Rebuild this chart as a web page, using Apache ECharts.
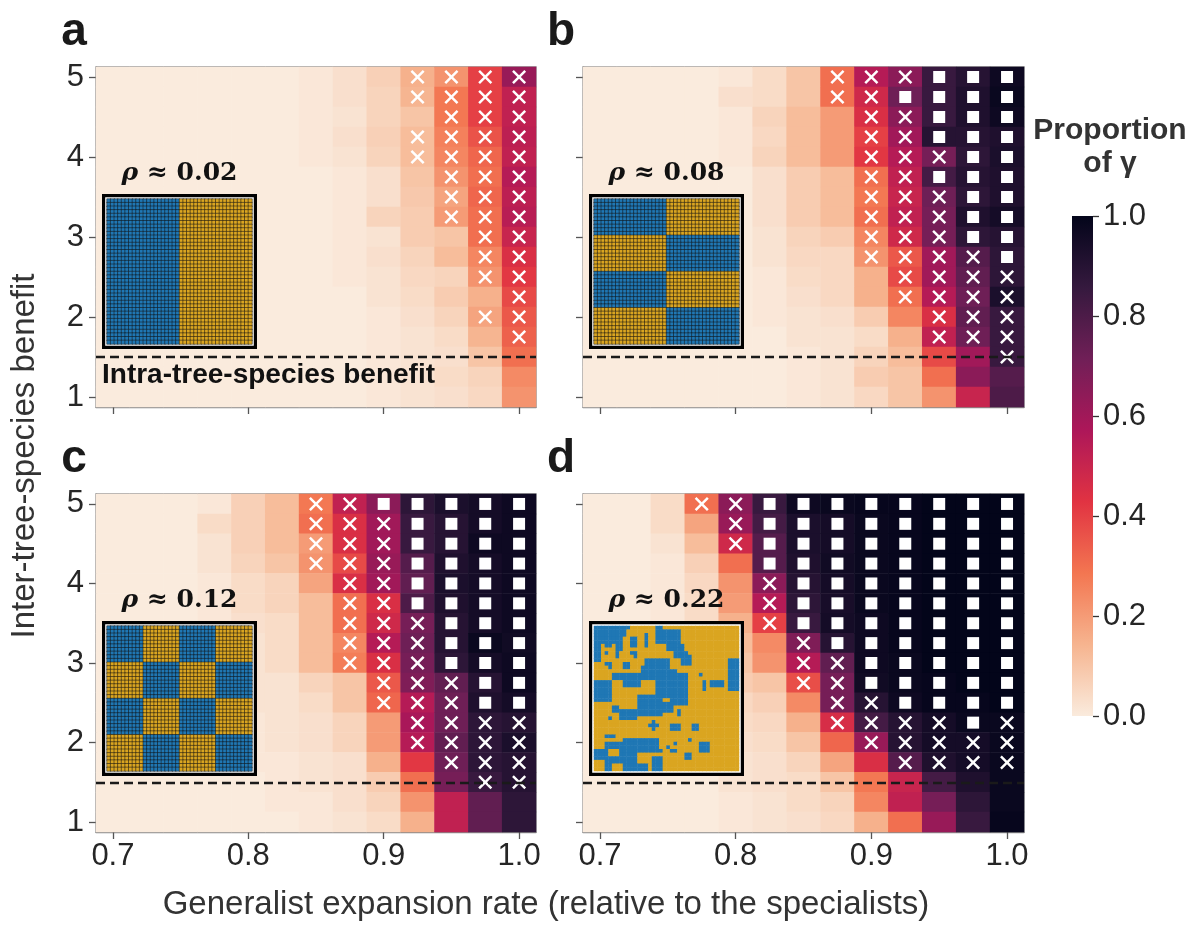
<!DOCTYPE html>
<html><head><meta charset="utf-8">
<script src="https://cdn.jsdelivr.net/npm/echarts@6/dist/echarts.min.js"></script>
<style>html,body{margin:0;padding:0;background:#fff}#c{width:1195px;height:926px}</style>
</head><body><div id="c"></div>
<script>
// ---------------- data ----------------
const xCats = ['0.7','0.725','0.75','0.775','0.8','0.825','0.85','0.875','0.9','0.925','0.95','0.975','1.0'];
const yCats = ['1','1.25','1.5','1.75','2','2.25','2.5','2.75','3','3.25','3.5','3.75','4','4.25','4.5','4.75','5'];
const panelLetters = ['a','b','c','d'];
const rhoValues = ['0.02','0.08','0.12','0.22'];
const intraBenefit = '1.5';
const xTitle = 'Generalist expansion rate (relative to the specialists)';
const yTitle = 'Inter-tree-species benefit';
const intraLabel = 'Intra-tree-species benefit';
const colorbarTitle = 'Proportion\nof \u03b3';
const rocketR = ['#faebdd','#f6b48f','#f37651','#e13342','#ad1759','#701f57','#35193e','#03051a'];

// rows listed top (benefit 5) to bottom (benefit 1); columns 0.7 ... 1.0
const valuesA = [
 [0,0,0,0,0,0,0.01,0.03,0.07,0.15,0.22,0.40,0.62],
 [0,0,0,0,0,0,0.01,0.03,0.06,0.14,0.28,0.40,0.52],
 [0,0,0,0,0,0,0.01,0.02,0.06,0.10,0.28,0.40,0.52],
 [0,0,0,0,0,0,0.01,0.03,0.07,0.12,0.26,0.36,0.53],
 [0,0,0,0,0,0,0.01,0.02,0.06,0.12,0.25,0.32,0.52],
 [0,0,0,0,0,0,0,0.01,0.03,0.10,0.22,0.30,0.55],
 [0,0,0,0,0,0,0,0.01,0.03,0.09,0.18,0.32,0.53],
 [0,0,0,0,0,0,0,0.01,0.06,0.08,0.20,0.30,0.54],
 [0,0,0,0,0,0,0,0.01,0.02,0.08,0.10,0.30,0.50],
 [0,0,0,0,0,0,0,0.01,0.03,0.06,0.12,0.25,0.45],
 [0,0,0,0,0,0,0,0.01,0.02,0.05,0.06,0.22,0.42],
 [0,0,0,0,0,0,0,0,0.02,0.04,0.08,0.15,0.38],
 [0,0,0,0,0,0,0,0,0.01,0.03,0.06,0.18,0.35],
 [0,0,0,0,0,0,0,0,0.01,0.02,0.04,0.14,0.33],
 [0,0,0,0,0,0,0,0,0.01,0.02,0.03,0.10,0.30],
 [0,0,0,0,0,0,0,0,0.01,0.02,0.04,0.06,0.24],
 [0,0,0,0,0,0,0,0,0.01,0.02,0.03,0.05,0.22]
];
const valuesB = [
 [0,0,0,0,0.01,0.04,0.10,0.30,0.55,0.65,0.85,0.90,0.97],
 [0,0,0,0,0.03,0.04,0.10,0.30,0.48,0.72,0.85,0.92,0.98],
 [0,0,0,0,0.01,0.06,0.12,0.20,0.45,0.65,0.85,0.92,0.97],
 [0,0,0,0,0.01,0.05,0.12,0.20,0.40,0.60,0.90,0.90,0.92],
 [0,0,0,0,0.01,0.06,0.12,0.20,0.42,0.55,0.70,0.88,0.93],
 [0,0,0,0,0,0.03,0.08,0.12,0.30,0.52,0.82,0.90,0.92],
 [0,0,0,0,0,0.03,0.08,0.12,0.28,0.50,0.72,0.88,0.92],
 [0,0,0,0,0,0.03,0.08,0.12,0.30,0.52,0.70,0.92,0.95],
 [0,0,0,0,0,0.02,0.06,0.08,0.25,0.48,0.70,0.88,0.90],
 [0,0,0,0,0,0.02,0.05,0.05,0.22,0.35,0.60,0.78,0.88],
 [0,0,0,0,0,0.01,0.04,0.05,0.15,0.38,0.60,0.75,0.88],
 [0,0,0,0,0,0.01,0.03,0.05,0.15,0.30,0.55,0.72,0.93],
 [0,0,0,0,0,0.01,0.02,0.03,0.08,0.25,0.45,0.75,0.85],
 [0,0,0,0,0,0,0.02,0.02,0.04,0.15,0.52,0.72,0.85],
 [0,0,0,0,0,0,0.01,0.02,0.06,0.12,0.38,0.60,0.85],
 [0,0,0,0,0,0,0.01,0.02,0.08,0.10,0.30,0.65,0.78],
 [0,0,0,0,0,0,0.01,0.02,0.05,0.10,0.22,0.50,0.80]
];
const valuesC = [
 [0,0,0,0.01,0.07,0.12,0.28,0.52,0.65,0.88,0.93,0.95,0.97],
 [0,0,0,0.04,0.07,0.12,0.30,0.45,0.60,0.85,0.90,0.95,0.97],
 [0,0,0,0.02,0.07,0.12,0.20,0.45,0.60,0.85,0.90,0.97,0.97],
 [0,0,0,0.02,0.06,0.10,0.22,0.38,0.62,0.78,0.92,0.95,0.97],
 [0,0,0,0.01,0.04,0.06,0.18,0.45,0.60,0.75,0.93,0.95,0.97],
 [0,0,0,0.01,0.04,0.06,0.12,0.30,0.45,0.80,0.92,0.95,0.97],
 [0,0,0,0.01,0.03,0.04,0.12,0.30,0.48,0.70,0.90,0.95,0.97],
 [0,0,0,0.01,0.02,0.04,0.12,0.25,0.55,0.72,0.90,0.98,0.96],
 [0,0,0,0.01,0.02,0.04,0.12,0.27,0.45,0.70,0.88,0.95,0.97],
 [0,0,0,0,0.02,0.02,0.06,0.10,0.35,0.68,0.75,0.90,0.97],
 [0,0,0,0,0.02,0.02,0.04,0.10,0.32,0.55,0.72,0.92,0.95],
 [0,0,0,0,0.01,0.02,0.03,0.06,0.20,0.58,0.72,0.88,0.90],
 [0,0,0,0,0.01,0.02,0.03,0.06,0.20,0.55,0.75,0.88,0.93],
 [0,0,0,0,0.01,0.01,0.02,0.03,0.15,0.42,0.72,0.88,0.90],
 [0,0,0,0,0,0.01,0.02,0.03,0.08,0.30,0.70,0.85,0.90],
 [0,0,0,0,0,0.01,0.01,0.03,0.06,0.22,0.52,0.75,0.88],
 [0,0,0,0,0,0,0.01,0.02,0.04,0.15,0.52,0.75,0.88]
];
const valuesD = [
 [0,0,0.04,0.30,0.65,0.85,0.97,0.98,0.99,0.99,1,1,1],
 [0,0,0.04,0.18,0.62,0.82,0.93,0.95,0.98,0.99,1,1,1],
 [0,0,0.02,0.12,0.48,0.78,0.93,0.95,0.98,0.99,1,1,1],
 [0,0,0.01,0.07,0.30,0.78,0.92,0.96,0.98,0.99,1,1,1],
 [0,0,0.01,0.05,0.22,0.65,0.90,0.95,0.98,0.99,1,1,1],
 [0,0,0.01,0.04,0.20,0.55,0.88,0.94,0.98,0.99,1,1,1],
 [0,0,0.01,0.04,0.15,0.40,0.85,0.95,0.97,0.99,1,1,1],
 [0,0,0,0.03,0.12,0.24,0.68,0.90,0.97,0.99,1,1,1],
 [0,0,0,0.03,0.10,0.22,0.55,0.75,0.97,0.98,1,1,1],
 [0,0,0,0.02,0.08,0.10,0.37,0.70,0.96,0.98,0.99,1,1],
 [0,0,0,0.02,0.05,0.07,0.24,0.70,0.90,0.97,0.99,0.99,1],
 [0,0,0,0.01,0.04,0.05,0.15,0.46,0.82,0.90,0.95,0.98,0.98],
 [0,0,0,0.01,0.03,0.04,0.10,0.32,0.62,0.90,0.95,0.95,0.98],
 [0,0,0,0.01,0.02,0.03,0.06,0.18,0.45,0.78,0.92,0.95,0.98],
 [0,0,0,0,0.02,0.03,0.04,0.10,0.28,0.50,0.82,0.92,0.98],
 [0,0,0,0,0.01,0.02,0.04,0.06,0.25,0.52,0.70,0.88,0.98],
 [0,0,0,0,0.01,0.02,0.03,0.05,0.15,0.30,0.62,0.85,0.99]
];
// markers: x = cross, s = square, . = none (same row/column layout)
const markersA = [
 '.........xxxx','.........xxxx','..........xxx','.........xxxx','.........xxxx',
 '..........xxx','..........xxx','..........xxx','...........xx','...........xx',
 '...........xx','............x','...........xx','............x','.............',
 '.............','.............'
];
const markersB = [
 '.......xxxsss','.......xxssss','........xxsss','........xxsss','........xxxss',
 '........xxsss','........xxxss','........xxxss','........xxxss','........xxxxs',
 '.........xxxx','.........xxxx','..........xxx','..........xxx','............x',
 '.............','.............'
];
const markersC = [
 '......xxsssss','......xxxssss','......xxxssss','......xxxssss','.......xxssss',
 '.......xxssss','.......xxxsss','.......xxxsss','.......xxxsss','........xxxss',
 '........xxxss','.........xxxx','.........xxxx','..........xxx','...........xx',
 '.............','.............'
];
const markersD = [
 '...xxssssssss','....xssssssss','....xssssssss','.....ssssssss','.....xsssssss',
 '.....xsssssss','.....xsssssss','......xssssss','......xxsssss','......xxsssss',
 '.......xxssss','.......xxxxsx','........xxxxx','.........xxxx','.............',
 '.............','.............'
];
// inset spatial layouts (0 = blue species, 1 = gold species)
const insetN = 40;
const insetBlocksA = [[0,1]];
const insetBlocksB = [[0,1],[1,0],[0,1],[1,0]];
const insetBlocksC = [[0,1,0,1],[1,0,1,0],[0,1,0,1],[1,0,1,0]];
// random landscape: blue patches as [row0,row1,col0,col1] on the 40x40 lattice, rest gold
const insetBluePatchesD = [
 [0,0,0,9],[1,2,0,8],[3,4,0,7],[5,5,0,1],[5,5,3,4],[5,6,6,7],[6,9,0,1],[7,7,3,3],[7,8,6,6],
 [10,10,3,4],[11,11,4,4],[10,11,8,9],[3,5,10,11],[2,5,14,14],[7,7,10,11],[8,8,11,11],
 [0,0,17,18],[1,4,17,23],[5,6,20,24],[7,8,22,25],[8,10,24,26],[9,12,14,20],[11,12,13,13],
 [13,14,5,25],[12,12,21,22],[15,16,8,12],[15,20,0,4],[15,19,17,25],[20,21,21,25],
 [19,24,12,18],[22,23,5,6],[23,25,7,11],[21,23,19,21],[23,24,23,23],[25,25,4,4],
 [9,17,37,39],[13,13,29,29],[15,17,30,30],[15,16,32,35],[26,28,16,16],[27,27,15,17],
 [27,28,21,23],[27,28,27,28],[31,31,26,26],[32,34,29,31],[32,32,22,22],[30,30,3,5],
 [31,33,8,17],[32,33,3,7],[34,37,7,11],[34,34,12,18],[34,36,0,3],[36,39,3,4],[36,37,5,6],
 [38,39,8,14],[36,39,16,18],[34,34,21,22],[35,36,25,26],[33,33,20,20]
];

// ---------------- layout / style ----------------
const FONT = '"Liberation Sans", Arial, sans-serif';
const TXT = '#262626';
const panels = [
 {left:96,  top:67,  width:440, height:340, vals:valuesA, marks:markersA, xLab:false, yLab:true},
 {left:583, top:67,  width:441, height:340, vals:valuesB, marks:markersB, xLab:false, yLab:false},
 {left:96,  top:494, width:440, height:338, vals:valuesC, marks:markersC, xLab:true,  yLab:true},
 {left:583, top:494, width:441, height:338, vals:valuesD, marks:markersD, xLab:true,  yLab:false}
];
const BOX = 155, BOX_DX = 6, BOX_DY = 127, PAD = 5;
const CROSS = 'path://M2.5,0 L10,7.5 L17.5,0 L20,2.5 L12.5,10 L20,17.5 L17.5,20 L10,12.5 L2.5,20 L0,17.5 L7.5,10 L0,2.5 Z';

function heatData(vals){
  const out = [];
  vals.forEach((row, r) => row.forEach((v, c) => out.push([c, yCats.length - 1 - r, v])));
  return out;
}
function markerData(rows, ch){
  const out = [];
  rows.forEach((s, r) => { for (let c = 0; c < s.length; c++) if (s[c] === ch) out.push([c, yCats.length - 1 - r]); });
  return out;
}
function blockInset(blocks){
  const R = blocks.length, C = blocks[0].length, out = [];
  for (let r = 0; r < insetN; r++) for (let c = 0; c < insetN; c++)
    out.push([c, r, blocks[Math.floor(r * R / insetN)][Math.floor(c * C / insetN)]]);
  return out;
}
function patchInset(patches){
  const g = Array.from({length: insetN}, () => Array(insetN).fill(1));
  patches.forEach(([r0, r1, c0, c1]) => { for (let r = r0; r <= r1; r++) for (let c = c0; c <= c1; c++) g[r][c] = 0; });
  const out = [];
  for (let r = 0; r < insetN; r++) for (let c = 0; c < insetN; c++) out.push([c, r, g[r][c]]);
  return out;
}
const insetData = [blockInset(insetBlocksA), blockInset(insetBlocksB), blockInset(insetBlocksC), patchInset(insetBluePatchesD)];
const insetCats = Array.from({length: insetN}, (_, i) => String(i));

const grid = [], xAxis = [], yAxis = [], series = [], graphic = [];
panels.forEach((p, i) => {
  grid.push({left:p.left, top:p.top, width:p.width, height:p.height, show:true, borderColor:'#8a8a8a', borderWidth:1.3, backgroundColor:'transparent'});
  xAxis.push({type:'category', gridIndex:i, data:xCats,
    axisLine:{show:true, lineStyle:{color:'#8a8a8a', width:1.3}},
    axisTick:{show:true, alignWithLabel:true, length:7, interval:(idx)=>idx%4===0, lineStyle:{color:'#555', width:1.3}},
    axisLabel:{show:p.xLab, interval:(idx)=>idx%4===0, formatter:(v)=>Number(v).toFixed(1), fontSize:31, color:TXT, margin:9, fontFamily:FONT},
    splitLine:{show:false}});
  yAxis.push({type:'category', gridIndex:i, data:yCats,
    axisLine:{show:true, lineStyle:{color:'#8a8a8a', width:1.3}},
    axisTick:{show:true, alignWithLabel:true, length:7, interval:(idx)=>idx%4===0, lineStyle:{color:'#555', width:1.3}},
    axisLabel:{show:p.yLab, interval:(idx)=>idx%4===0, formatter:(v)=>String(Number(v)), fontSize:31, color:TXT, margin:12, fontFamily:FONT},
    splitLine:{show:false}});
});
panels.forEach((p, i) => {
  const bx = p.left + BOX_DX, by = p.top + BOX_DY;
  grid.push({left:bx + PAD, top:by + PAD, width:BOX - 2*PAD, height:BOX - 2*PAD, show:false});
  xAxis.push({type:'category', gridIndex:4+i, data:insetCats, show:false});
  yAxis.push({type:'category', gridIndex:4+i, data:insetCats, show:false, inverse:true});
  graphic.push({type:'rect', z:8, shape:{x:bx + 1.6, y:by + 1.6, width:BOX - 3.2, height:BOX - 3.2},
    style:{fill:'#fff', stroke:'#000', lineWidth:3.2}});
  graphic.push({type:'text', z:9, x:bx + BOX/2, y:by - 21,
    style:{text:'{r|\u03c1} \u2248 ' + rhoValues[i], fontSize:25, fontWeight:'bold', fontFamily:'"DejaVu Serif", serif', fill:'#111',
      align:'center', verticalAlign:'middle',
      rich:{r:{fontStyle:'italic', fontWeight:'bold', fontSize:25, fontFamily:'"DejaVu Serif", serif', fill:'#111'}}}});
  graphic.push({type:'text', z:9, x:p.left - 22, y:p.top - 35,
    style:{text:panelLetters[i], fontSize:46, fontWeight:'bold', fontFamily:FONT, fill:'#1a1a1a', align:'center', verticalAlign:'middle'}});
});
// colorbar grid
grid.push({left:1072, top:216, width:21, height:500, show:false});
xAxis.push({type:'category', gridIndex:8, data:['cb'], show:false});
yAxis.push({type:'value', gridIndex:8, min:0, max:1, interval:0.2, position:'right',
  axisLine:{show:false}, splitLine:{show:false},
  axisTick:{show:true, length:6, lineStyle:{color:'#333', width:1.3}},
  axisLabel:{fontSize:31, color:TXT, margin:10, fontFamily:FONT, formatter:(v)=>v.toFixed(1)}});

// series
panels.forEach((p, i) => {
  series.push({type:'heatmap', xAxisIndex:i, yAxisIndex:i, data:heatData(p.vals), z:2, progressive:0,
    emphasis:{disabled:true}, silent:true,
    markLine:{silent:true, symbol:'none', animation:false,
      lineStyle:{color:'#1a1a1a', type:[9,5], width:2.4, opacity:1},
      label:{show:i===0, formatter:intraLabel, position:'insideStartBottom', fontSize:28, fontWeight:'bold', color:'#111', fontFamily:FONT, distance:[6,4]},
      data:[{yAxis:intraBenefit}]}});
});
panels.forEach((p, i) => {
  series.push({type:'heatmap', xAxisIndex:4+i, yAxisIndex:4+i, data:insetData[i], z:10, progressive:0,
    emphasis:{disabled:true}, silent:true,
    itemStyle:{borderColor: i < 3 ? 'rgba(15,15,15,0.85)' : 'transparent', borderWidth: i < 3 ? 0.6 : 0}});
});
panels.forEach((p, i) => {
  series.push({type:'scatter', xAxisIndex:i, yAxisIndex:i, data:markerData(p.marks, 'x'), symbol:CROSS, symbolSize:14,
    itemStyle:{color:'#fff', opacity:1}, z:4, silent:true});
  series.push({type:'scatter', xAxisIndex:i, yAxisIndex:i, data:markerData(p.marks, 's'), symbol:'rect', symbolSize:12,
    itemStyle:{color:'#fff', opacity:1}, z:4, silent:true});
});
series.push({type:'bar', xAxisIndex:8, yAxisIndex:8, data:[1], barWidth:'100%', silent:true,
  itemStyle:{color:{type:'linear', x:0, y:1, x2:0, y2:0, colorStops: rocketR.map((c, k) => ({offset:k/(rocketR.length-1), color:c}))}}});

// shared titles
graphic.push({type:'text', x:546, y:905, style:{text:xTitle, fontSize:33, fontFamily:FONT, fill:'#333', align:'center', verticalAlign:'middle'}});
graphic.push({type:'text', x:25, y:456, rotation:Math.PI/2, style:{text:yTitle, fontSize:33, fontFamily:FONT, fill:'#333', align:'center', verticalAlign:'middle'}});
graphic.push({type:'text', x:1110, y:147, style:{text:colorbarTitle, fontSize:30, fontWeight:'bold', lineHeight:33, fontFamily:FONT, fill:'#333', align:'center', verticalAlign:'middle'}});

const chart = echarts.init(document.getElementById('c'), null, {renderer:'canvas', width:1195, height:926});
chart.setOption({
  animation:false,
  backgroundColor:'#fff',
  textStyle:{fontFamily:FONT},
  grid, xAxis, yAxis, series, graphic,
  visualMap:[
    {type:'continuous', min:0, max:1, seriesIndex:[0,1,2,3], inRange:{color:rocketR}, show:false},
    {type:'piecewise', seriesIndex:[4,5,6,7], pieces:[{value:0, color:'#1f77b4'}, {value:1, color:'#daa520'}], show:false}
  ]
});
</script></body></html>
